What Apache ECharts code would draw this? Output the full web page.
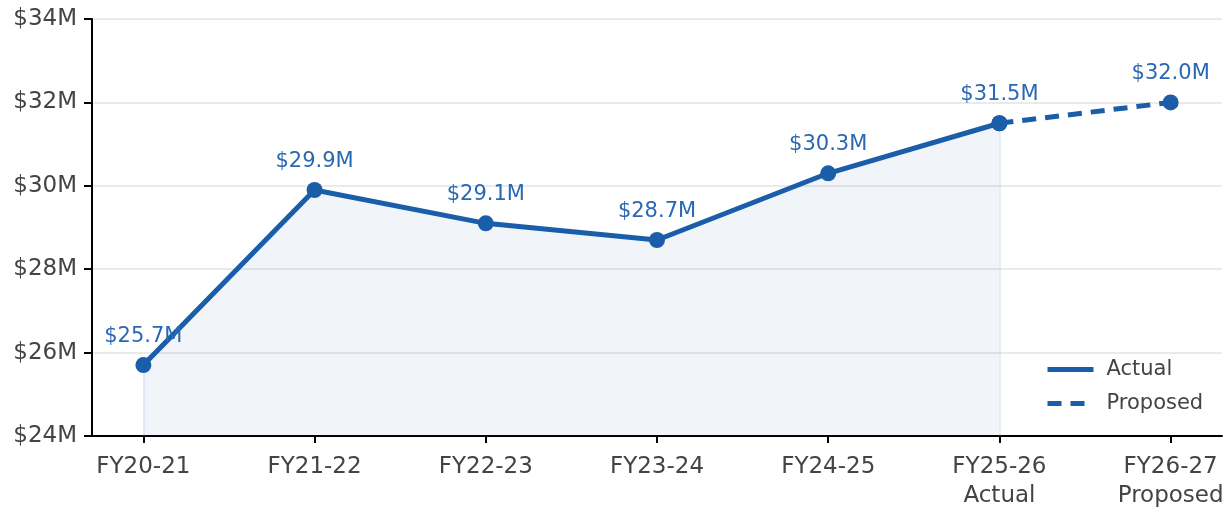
<!DOCTYPE html>
<html>
<head>
<meta charset="utf-8">
<script src="https://cdn.jsdelivr.net/npm/echarts@6/dist/echarts.min.js"></script>
<style>
  html, body { margin: 0; padding: 0; background: #fff; }
  #chart { width: 1229px; height: 508px; }
</style>
</head>
<body>
<div id="chart"></div>
<script>
const categories = ['FY20-21', 'FY21-22', 'FY22-23', 'FY23-24', 'FY24-25', 'FY25-26\nActual', 'FY26-27\nProposed'];
const actualValues = [25.7, 29.9, 29.1, 28.7, 30.3, 31.5];
const proposedValues = [null, null, null, null, null, 31.5, 32.0];
const yTicks = [24, 26, 28, 30, 32, 34];

const blue = '#1a5da8';
const textColor = '#444';
const font = 'DejaVu Sans';

const toPoints = (vals) => vals.map((v, i) => [i, v]).filter(p => p[1] !== null);
const lastActual = actualValues.length - 1;

const chart = echarts.init(document.getElementById('chart'));

const option = {
  animation: false,
  textStyle: { fontFamily: font },
  grid: { left: 92, right: 7, top: 19, bottom: 72, outerBoundsMode: 'none' },
  legend: {
    orient: 'vertical',
    left: 1040,
    top: 354,
    itemWidth: 46,
    itemHeight: 14,
    itemGap: 13,
    itemStyle: { opacity: 0 },
    lineStyle: { width: 5 },
    textStyle: { fontFamily: font, fontSize: 21, color: textColor, padding: [0, 0, 0, 8] },
    data: ['Actual', 'Proposed']
  },
  xAxis: {
    type: 'value',
    min: -0.3,
    max: 6.3,
    splitLine: { show: false },
    axisLine: { show: true, onZero: false, lineStyle: { color: '#000', width: 2 } },
    axisTick: { show: true, length: 7, customValues: categories.map((c, i) => i), lineStyle: { color: '#000', width: 2 } },
    axisLabel: {
      customValues: categories.map((c, i) => i),
      formatter: (v) => categories[Math.round(v)] || '',
      fontFamily: font,
      fontSize: 23,
      color: textColor,
      lineHeight: 29,
      margin: 17
    }
  },
  yAxis: {
    type: 'value',
    min: yTicks[0],
    max: yTicks[yTicks.length - 1],
    interval: 2,
    axisLine: { show: true, onZero: false, lineStyle: { color: '#000', width: 2 } },
    axisTick: { show: true, length: 8, lineStyle: { color: '#000', width: 2 } },
    axisLabel: {
      formatter: (v) => '$' + v + 'M',
      fontFamily: font,
      fontSize: 23,
      color: textColor,
      margin: 15,
      padding: [4, 0, 0, 0]
    },
    splitLine: { lineStyle: { color: '#e3e3e3', width: 1.5 } }
  },
  series: [
    {
      name: 'Actual',
      type: 'line',
      data: toPoints(actualValues),
      symbol: 'circle',
      symbolSize: 16,
      lineStyle: { color: blue, width: 5 },
      itemStyle: { color: blue },
      areaStyle: { color: 'rgba(26,93,168,0.09)', origin: 'start' },
      label: {
        show: true,
        position: 'top',
        distance: 10,
        fontFamily: font,
        fontSize: 21,
        color: '#2a68b3',
        formatter: (p) => '$' + p.value[1].toFixed(1) + 'M'
      },
      markLine: {
        silent: true,
        symbol: 'none',
        label: { show: false },
        lineStyle: { color: 'rgba(26,93,168,0.12)', width: 1.5, type: 'solid' },
        data: [
          [{ coord: [0, yTicks[0]] }, { coord: [0, actualValues[0]] }],
          [{ coord: [lastActual, yTicks[0]] }, { coord: [lastActual, actualValues[lastActual]] }]
        ]
      },
      z: 3
    },
    {
      name: 'Proposed',
      type: 'line',
      data: toPoints(proposedValues),
      symbol: 'circle',
      symbolSize: 16,
      lineStyle: { color: blue, width: 5, type: [14, 9] },
      itemStyle: { color: blue },
      label: {
        show: true,
        position: 'top',
        distance: 10,
        fontFamily: font,
        fontSize: 21,
        color: '#2a68b3',
        formatter: (p) => p.dataIndex === 1 ? '$' + p.value[1].toFixed(1) + 'M' : ''
      },
      z: 2
    }
  ]
};

chart.setOption(option);
</script>
</body>
</html>
